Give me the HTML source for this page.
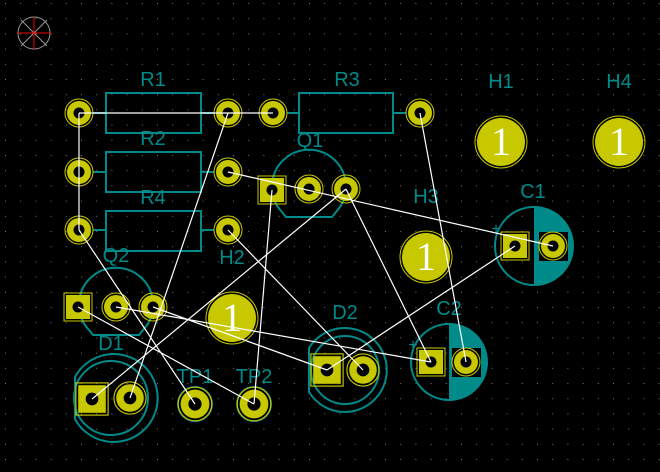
<!DOCTYPE html>
<html><head><style>html,body{margin:0;padding:0;background:#000;}svg{display:block}</style></head><body>
<svg width="660" height="472" viewBox="0 0 660 472" xmlns="http://www.w3.org/2000/svg" font-family="Liberation Sans, sans-serif">
<defs>
<pattern id="g" x="5" y="3" width="15.2" height="15.2" patternUnits="userSpaceOnUse"><rect width="1" height="1" fill="#777"/></pattern>
<g id="pad"><circle r="14" fill="none" stroke="#c8c800" stroke-width="1"/><circle r="12" fill="#c8c800"/><circle r="5.5" fill="#000"/></g>
<g id="sq"><rect x="-14" y="-14" width="28" height="28" fill="none" stroke="#c8c800" stroke-width="1"/><rect x="-12" y="-12" width="24" height="24" fill="#c8c800"/><circle r="5.5" fill="#000"/></g>
<g id="mh"><circle r="26" fill="none" stroke="#c8c800" stroke-width="1"/><circle r="24" fill="#c8c800"/><text y="13" text-anchor="middle" font-size="40" fill="#fff" font-family="Liberation Serif, serif">1</text></g>
</defs>
<rect width="660" height="472" fill="#000"/>
<rect width="660" height="472" fill="url(#g)"/>
<g stroke-width="1"><circle cx="34" cy="33" r="16" fill="none" stroke="#999"/><line x1="21" y1="20" x2="47" y2="46" stroke="#999"/><line x1="47" y1="20" x2="21" y2="46" stroke="#999"/><line x1="34" y1="17" x2="34" y2="49" stroke="#e00"/><line x1="17" y1="33" x2="51" y2="33" stroke="#e00"/></g>
<g fill="none" stroke="#008a8a" stroke-width="2">
<rect x="106" y="93" width="95" height="40"/><line x1="93" y1="113" x2="106" y2="113"/><line x1="201" y1="113" x2="214" y2="113"/>
<rect x="106" y="152" width="95" height="40"/><line x1="93" y1="172" x2="106" y2="172"/><line x1="201" y1="172" x2="214" y2="172"/>
<rect x="106" y="211" width="95" height="40"/><line x1="93" y1="230" x2="106" y2="230"/><line x1="201" y1="230" x2="214" y2="230"/>
<rect x="299" y="93" width="94" height="40"/><line x1="287" y1="113" x2="299" y2="113"/><line x1="393" y1="113" x2="406" y2="113"/>
<path d="M282,212 A37,37 0 1 1 336,212 L332,217 H286 Z"/>
<path d="M89,330 A37,37 0 1 1 143,330 L139,335 H93 Z"/>
<circle cx="111" cy="398" r="37"/><path d="M75,377 A44,44 0 1 1 75,419 Z"/>
<circle cx="345" cy="370" r="34"/><path d="M309,348 A42,42 0 1 1 309,392 Z"/>
<circle cx="534" cy="246" r="39"/><circle cx="449" cy="362" r="38"/>
</g>
<path d="M534,207 A39,39 0 0 1 534,285 Z" fill="#008a8a"/>
<path d="M449,324 A38,38 0 0 1 449,400 Z" fill="#008a8a"/>
<rect x="539" y="232" width="29" height="29" fill="#000"/>
<rect x="452" y="348" width="29" height="29" fill="#000"/>
<g fill="#008a8a" font-size="20" text-anchor="middle">
<text x="153" y="86">R1</text><text x="153" y="145">R2</text><text x="153" y="204">R4</text><text x="347" y="86">R3</text>
<text x="310" y="147">Q1</text><text x="116" y="262">Q2</text><text x="111" y="350">D1</text><text x="345" y="319">D2</text>
<text x="195" y="383">TP1</text><text x="254" y="383">TP2</text><text x="232" y="264">H2</text><text x="426" y="203">H3</text>
<text x="501" y="88">H1</text><text x="619" y="88">H4</text><text x="533" y="198">C1</text><text x="449" y="315">C2</text>
<text x="496" y="234" font-size="16">+</text><text x="413" y="350" font-size="16">+</text>
</g>
<use href="#pad" x="79" y="113"/><use href="#pad" x="228" y="113"/><use href="#pad" x="273" y="113"/><use href="#pad" x="420" y="113"/>
<use href="#pad" x="79" y="172"/><use href="#pad" x="228" y="172"/><use href="#pad" x="79" y="230"/><use href="#pad" x="228" y="230"/>
<use href="#sq" x="272" y="190"/><use href="#pad" x="309" y="189"/><use href="#pad" x="346" y="189"/>
<use href="#sq" x="78" y="307"/><use href="#pad" x="116" y="307"/><use href="#pad" x="153" y="307"/>
<g transform="translate(92,399) scale(1.15)"><use href="#sq"/></g><g transform="translate(130,398) scale(1.15)"><use href="#pad"/></g>
<g transform="translate(327,370) scale(1.15)"><use href="#sq"/></g><g transform="translate(363,370) scale(1.15)"><use href="#pad"/></g>
<use href="#sq" x="515" y="246"/><use href="#pad" x="553" y="246"/>
<use href="#sq" x="431" y="362"/><use href="#pad" x="466" y="362"/>
<g transform="translate(195,404) scale(1.2)"><circle r="14.5" fill="none" stroke="#008a8a" stroke-width="1"/><use href="#pad"/></g>
<g transform="translate(254,404) scale(1.2)"><circle r="14.5" fill="none" stroke="#008a8a" stroke-width="1"/><use href="#pad"/></g>
<use href="#mh" x="501" y="142"/><use href="#mh" x="619" y="142"/><use href="#mh" x="426" y="257"/><use href="#mh" x="232" y="318"/>
<g stroke="#fff" stroke-width="1.2" fill="none">
<line x1="79" y1="113" x2="273" y2="113"/><line x1="79" y1="113" x2="79" y2="230"/>
<line x1="228" y1="113" x2="130" y2="398"/><line x1="420" y1="113" x2="466" y2="362"/>
<line x1="228" y1="172" x2="553" y2="246"/><line x1="346" y1="189" x2="92" y2="399"/>
<line x1="346" y1="189" x2="431" y2="362"/><line x1="272" y1="190" x2="254" y2="404"/>
<line x1="79" y1="230" x2="195" y2="404"/><line x1="228" y1="230" x2="363" y2="370"/>
<line x1="78" y1="307" x2="254" y2="404"/><line x1="116" y1="307" x2="431" y2="362"/>
<line x1="153" y1="307" x2="327" y2="370"/><line x1="515" y1="246" x2="327" y2="370"/>
</g>
</svg>
</body></html>
